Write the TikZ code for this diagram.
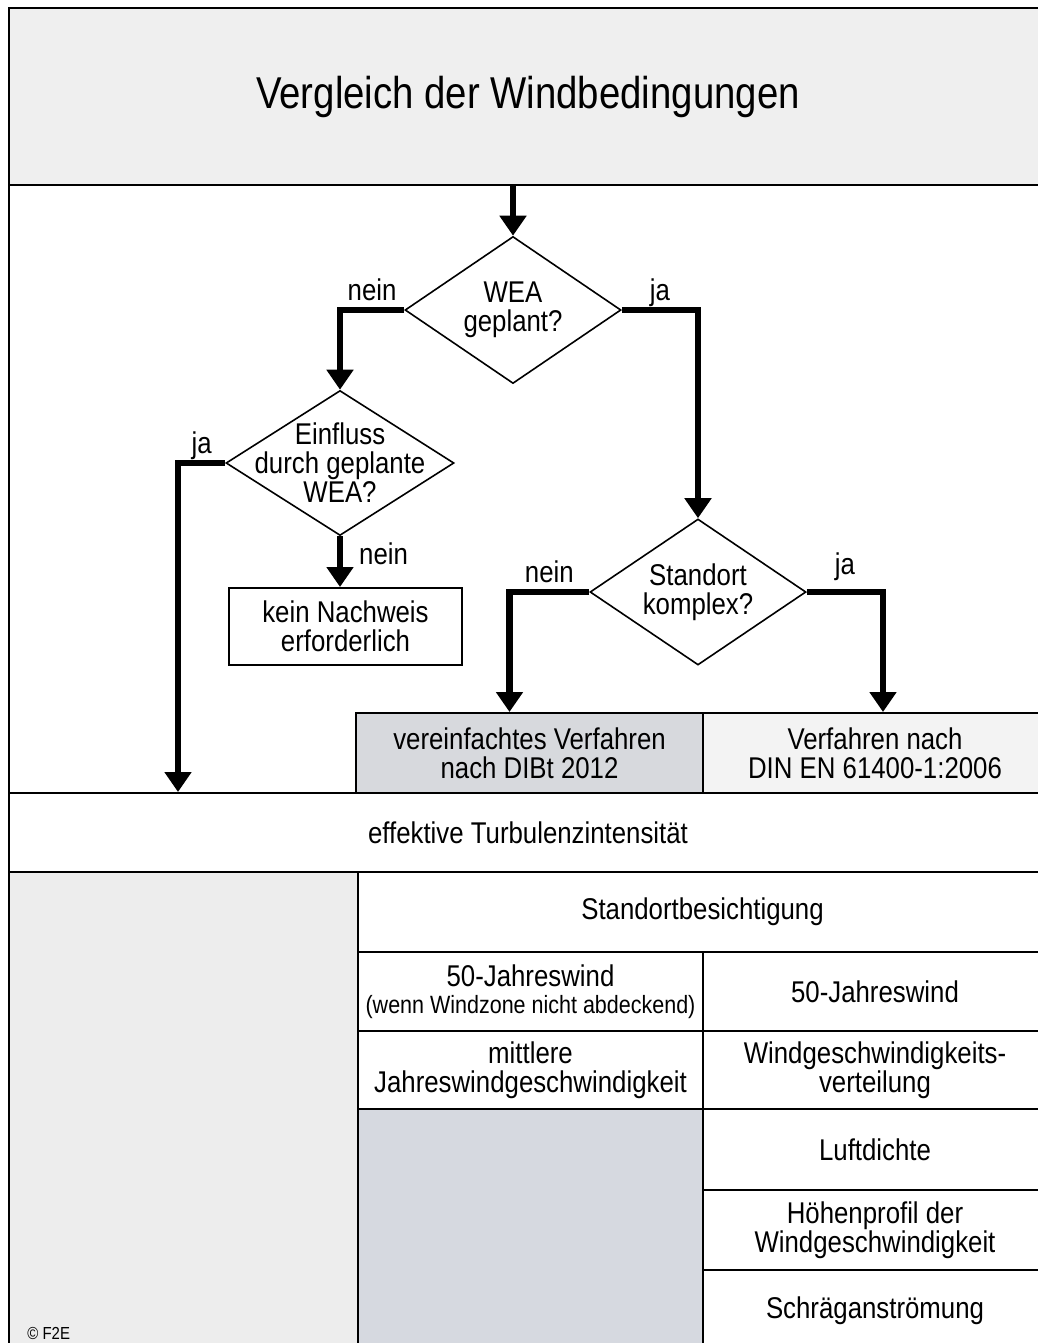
\documentclass[tikz,border=0pt]{standalone}
\usepackage{fontspec}
\setmainfont[FakeStretch=0.86]{Liberation Sans}
\usetikzlibrary{arrows.meta,shapes.geometric,positioning}

\definecolor{titlegray}{HTML}{EFEFEF}
\definecolor{leftgray}{HTML}{EDEDED}
\definecolor{dibtgray}{HTML}{D7D9DD}
\definecolor{dingray}{HTML}{F3F3F3}
\definecolor{restgray}{HTML}{D6D9E0}

\begin{document}
\begin{tikzpicture}[x=0.5pt, y=-0.5pt,
    font=\fontsize{15}{14.5}\selectfont,
    cell/.style={rectangle, draw, line width=1pt, inner sep=0pt, align=center, anchor=north west},
    decision/.style={diamond, draw, line width=0.8pt, inner sep=0pt, fill=white},
    flow/.style={draw, line width=3.2pt, -{Triangle[width=13pt, length=10pt]}},
    answer/.style={inner sep=1pt, text depth=0pt}]

    \useasboundingbox (0,0) rectangle (1038,1343);

    % title and frame
    \node [cell, fill=titlegray, minimum width=519pt, minimum height=88.5pt, font=\fontsize{22.3}{26}\selectfont] (title) at (8,7) {Vergleich der Windbedingungen};
    \node [cell, minimum width=519pt, minimum height=304pt] (ablauf) at (8,184) {};

    % decisions
    \node [decision, minimum width=108pt, minimum height=73.5pt, label={[align=center]center:WEA\\geplant?}] (wea) at (513,310) {};
    \node [decision, minimum width=114pt, minimum height=72.5pt, label={[align=center]center:Einfluss\\durch geplante\\WEA?}] (einfluss) at (340,463) {};
    \node [decision, minimum width=108pt, minimum height=73pt, label={[align=center]center:Standort\\komplex?}] (komplex) at (698,592) {};
    \node [cell, minimum width=116.5pt, minimum height=38.5pt] (kein) at (228,587) {kein Nachweis\\erforderlich};

    % results
    \node [cell, fill=dibtgray, minimum width=173.5pt, minimum height=40pt] (dibt) at (355,712) {vereinfachtes Verfahren\\nach DIBt 2012};
    \node [cell, fill=dingray, minimum width=172pt, minimum height=40pt] (din) at (702,712) {Verfahren nach\\DIN EN 61400-1:2006};
    \node [cell, minimum width=519pt, minimum height=39.5pt] (turb) at (8,792) {effektive Turbulenzintensität};
    \coordinate (jaend) at (178,792);

    % table
    \node [cell, fill=leftgray, minimum width=174.5pt, minimum height=239.5pt] (leer) at (8,871) {};
    \node [cell, minimum width=344.5pt, minimum height=40pt] (besicht) at (357,871) {Standortbesichtigung};
    \node [cell, minimum width=172.5pt, minimum height=39.5pt] (wind50a) at (357,951) {50-Jahreswind\\[-1pt]{\fontsize{12.5}{13}\selectfont(wenn Windzone nicht abdeckend)}};
    \node [cell, minimum width=172pt, minimum height=39.5pt] (wind50b) at (702,951) {50-Jahreswind};
    \node [cell, minimum width=172.5pt, minimum height=39pt] (vmittel) at (357,1030) {mittlere\\Jahreswindgeschwindigkeit};
    \node [cell, minimum width=172pt, minimum height=39pt] (vvert) at (702,1030) {Windgeschwindigkeits-\\verteilung};
    \node [cell, fill=restgray, minimum width=172.5pt, minimum height=121pt] (rest) at (357,1108) {};
    \node [cell, minimum width=172pt, minimum height=40.5pt] (luft) at (702,1108) {Luftdichte};
    \node [cell, minimum width=172pt, minimum height=40pt] (profil) at (702,1189) {Höhenprofil der\\Windgeschwindigkeit};
    \node [cell, minimum width=172pt, minimum height=40.5pt] (schraeg) at (702,1269) {Schräganströmung};

    \node [anchor=west, inner sep=0pt, font=\fontsize{8.7}{10}\selectfont] (copy) at (27,1333) {© F2E};

    % connectors
    \draw [flow] (title.south -| wea.north) -- (wea.north);
    \draw [flow] (wea.west) -| node [answer, pos=0.25, above=2pt] (wnein) {nein} (einfluss.north);
    \draw [flow] (wea.east) -| node [answer, pos=0.25, above=2pt] (wja) {ja} (komplex.north);
    \draw [flow] (einfluss.west) -| node [answer, pos=0.25, above=2pt] (eja) {ja} (jaend);
    \draw [flow] (einfluss.south) -- node [answer, pos=0.35, right=7pt] (enein) {nein} (einfluss.south |- kein.north);
    \draw [flow] (komplex.west) -| node [answer, pos=0.25, above=2pt] (knein) {nein} ([xshift=-10pt]dibt.north);
    \draw [flow] (komplex.east) -| node [answer, pos=0.25, above=6pt] (kja) {ja} ([xshift=4pt]din.north);

\end{tikzpicture}
\end{document}
